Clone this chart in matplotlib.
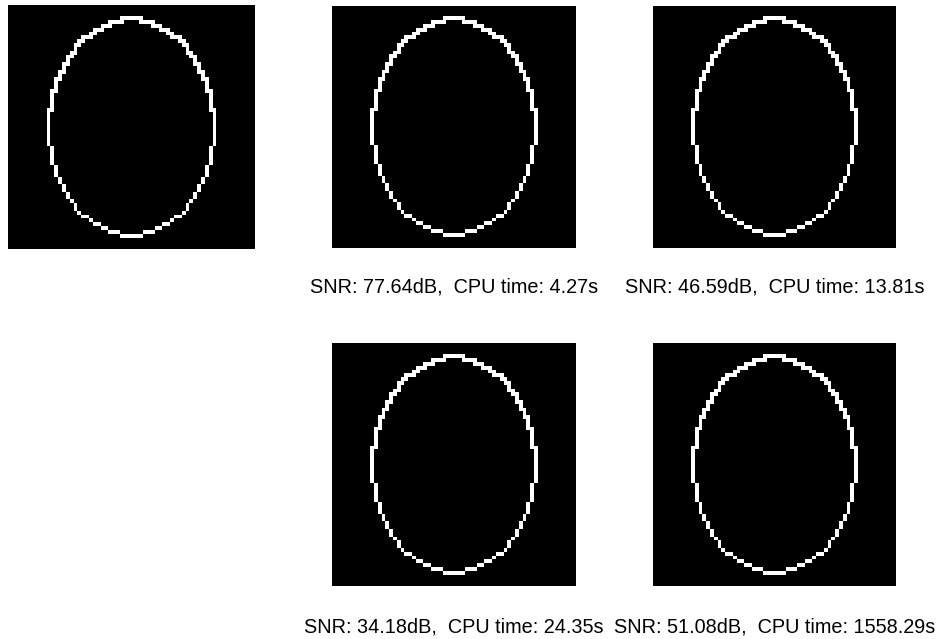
import numpy as np
import matplotlib
matplotlib.use("Agg")
import matplotlib.pyplot as plt

# --- data ---
grid_size = 64                 # reconstruction grid (cells per side)
semi_axes = (21.9, 28.7)       # ellipse semi-axes in cells (x, y)
snr_db = [77.64, 46.59, 34.18, 51.08]
cpu_time_s = [4.27, 13.81, 24.35, 1558.29]

# panel boxes in pixels (left, top, right, bottom) on a 938x639 canvas
W, H = 938, 639
panels = [
    (8, 5, 254, 249),      # original
    (332, 6, 576, 248),
    (653, 6, 896, 248),
    (332, 343, 576, 586),
    (653, 343, 896, 586),
]
caption_y = [287, 287, 627, 627]

# --- build the ellipse outline image ---
a, b = semi_axes
yy, xx = np.mgrid[0:grid_size, 0:grid_size] + 0.5 - grid_size / 2
inside = (xx / a) ** 2 + (yy / b) ** 2 <= 1.0
p = np.pad(inside, 1)
n4 = p[:-2, 1:-1] & p[2:, 1:-1] & p[1:-1, :-2] & p[1:-1, 2:]
n8 = n4 & p[:-2, :-2] & p[:-2, 2:] & p[2:, :-2] & p[2:, 2:]
edge_thin = inside & ~n4
edge_thick = inside & ~n8
img = np.where(yy < 0, edge_thick, edge_thin).astype(float)

fig = plt.figure(figsize=(W / 100, H / 100), dpi=100)
fig.patch.set_facecolor("white")

for (l, t, r, btm) in panels:
    ax = fig.add_axes([l / W, 1 - btm / H, (r - l) / W, (btm - t) / H])
    ax.imshow(img, cmap="gray", vmin=0, vmax=1, interpolation="nearest", aspect="auto")
    ax.set_axis_off()

for k, (snr, cpu) in enumerate(zip(snr_db, cpu_time_s)):
    l, t, r, btm = panels[k + 1]
    fig.text((l + r) / 2 / W, 1 - caption_y[k] / H,
             f"SNR: {snr:.2f}dB,  CPU time: {cpu:.2f}s",
             ha="center", va="center", fontsize=14.3,
             family=["Liberation Sans", "DejaVu Sans"], color="black")

fig.savefig("out.png", dpi=100)
